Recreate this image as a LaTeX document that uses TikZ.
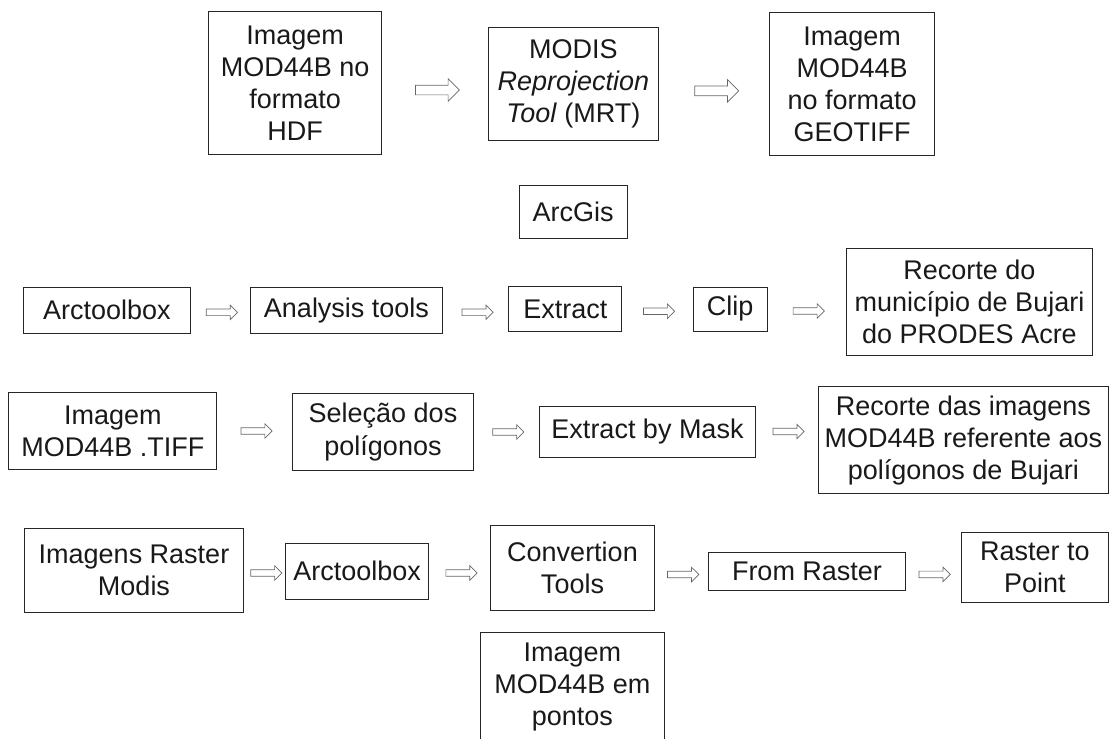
\documentclass[tikz,border=0pt]{standalone}
\usepackage{fontspec}
\setmainfont{Liberation Sans}
\usetikzlibrary{shapes.arrows,calc}

\begin{document}
\begin{tikzpicture}[x=0.025cm, y=-0.025cm,
  box/.style={draw=black!85, line width=0.7pt, inner sep=0pt, align=center, text=black!90,
    font=\fontsize{19.2}{22.8}\selectfont},
  bigarr/.style={single arrow, draw=black!60, line width=0.5pt, minimum height=1.1cm,
    inner xsep=0pt, inner ysep=3.2pt, single arrow head extend=4.6pt},
  smallarr/.style={bigarr, minimum height=0.78cm, inner ysep=2.1pt, single arrow head extend=2.8pt}]
  \useasboundingbox (0,0) rectangle (1111,738);

  % MRT conversion
  \node[box, minimum width=4.33cm, minimum height=3.565cm] (hdf) at (295.2,83) {Imagem\\MOD44B no\\formato\\HDF};
  \node[box, minimum width=4.26cm, minimum height=2.81cm] (mrt) at (573.4,83.9) {MODIS\\\textit{Reprojection}\\\textit{Tool} (MRT)};
  \node[box, minimum width=4.11cm, minimum height=3.565cm] (geotiff) at (852.2,84) {Imagem\\MOD44B\\no formato\\GEOTIFF};
  \node[bigarr] (a1) at ($(hdf.east)!0.5!(hdf.east -| mrt.west)+(0,7)$) {};
  \node[bigarr] (a2) at ($(mrt.east)!0.5!(mrt.east -| geotiff.west)+(0,7)$) {};
  \node[box, minimum width=2.7cm, minimum height=1.325cm] (arcgis) at (573,211.5) {ArcGis};

  % clip of PRODES
  \node[box, minimum width=4.18cm, minimum height=1.15cm] (tbox1) at (106.8,310.3) {Arctoolbox};
  \node[box, minimum width=4.82cm, minimum height=1.15cm] (analysis) at (346.5,310.3) {Analysis tools};
  \node[box, minimum width=2.82cm, minimum height=1.125cm] (extract) at (565.3,309.2) {Extract};
  \node[box, minimum width=1.855cm, minimum height=1.1cm] (clip) at (730.1,309) {Clip};
  \node[box, minimum width=6.125cm, minimum height=2.675cm] (recdo) at (969.5,301.5) {Recorte do\\município de Bujari\\do PRODES Acre};
  \node[smallarr] (a3) at ($(tbox1.east)!0.5!(tbox1.east -| analysis.west)+(0,2)$) {};
  \node[smallarr] (a4) at ($(analysis.east)!0.5!(analysis.east -| extract.west)+(0,2)$) {};
  \node[smallarr] (a5) at ($(extract.east)!0.5!(extract.east -| clip.west)+(0,2)$) {};
  \node[smallarr] (a6) at ($(clip.east)!0.5!(clip.east -| recdo.west)+(0,2)$) {};

  % extract by mask
  \node[box, minimum width=5.2cm, minimum height=1.915cm] (imgtiff) at (112.9,431) {Imagem\\MOD44B .TIFF};
  \node[box, minimum width=4.51cm, minimum height=1.935cm] (selec) at (383,432) {Seleção dos\\polígonos};
  \node[box, minimum width=5.375cm, minimum height=1.275cm] (mask) at (647.5,431.5) {Extract by Mask};
  \node[box, minimum width=7.23cm, minimum height=2.68cm] (recdas) at (963.4,440.3) {Recorte das imagens\\MOD44B referente aos\\polígonos de Bujari};
  \node[smallarr] (a7) at ($(imgtiff.east)!0.5!(imgtiff.east -| selec.west)$) {};
  \node[smallarr] (a8) at ($(selec.east)!0.5!(selec.east -| mask.west)$) {};
  \node[smallarr] (a9) at ($(mask.east)!0.5!(mask.east -| recdas.west)$) {};

  % raster to point
  \node[box, minimum width=5.47cm, minimum height=2.1cm] (raster) at (134,570) {Imagens Raster\\Modis};
  \node[box, minimum width=3.57cm, minimum height=1.4cm] (tbox2) at (357.2,571) {Arctoolbox};
  \node[box, minimum width=4.075cm, minimum height=2.125cm] (conv) at (572.5,567.5) {Convertion\\Tools};
  \node[box, minimum width=4.9cm, minimum height=0.93cm] (fromr) at (807,571.4) {From Raster};
  \node[box, minimum width=3.69cm, minimum height=1.75cm] (rtp) at (1034.8,567) {Raster to\\Point};
  \node[smallarr] (a10) at ($(raster.east)!0.5!(raster.east -| tbox2.west)+(0,3)$) {};
  \node[smallarr] (a11) at ($(tbox2.east)!0.5!(tbox2.east -| conv.west)+(0,2)$) {};
  \node[smallarr] (a12) at ($(conv.east)!0.5!(conv.east -| fromr.west)+(0,7)$) {};
  \node[smallarr] (a13) at ($(fromr.east)!0.5!(fromr.east -| rtp.west)+(0,3)$) {};
  \node[box, minimum width=4.58cm, minimum height=2.75cm] (pontos) at (572.4,687) {Imagem\\MOD44B em\\pontos};
\end{tikzpicture}
\end{document}
